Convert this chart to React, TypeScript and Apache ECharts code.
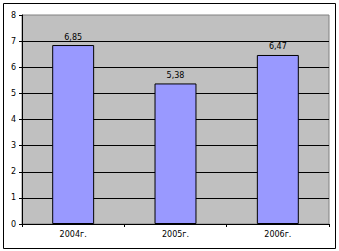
import React, { useEffect, useRef } from "react";
import * as echarts from "echarts";

const categories = ["2004г.", "2005г.", "2006г."];
const values = [6.85, 5.38, 6.47];
const yTicks = { min: 0, max: 8, interval: 1 };

export default function App() {
  const ref = useRef<HTMLDivElement>(null);
  useEffect(() => {
    if (!ref.current) return;
    const chart = echarts.init(ref.current, null, { renderer: "svg" });
    const font = "Tahoma, 'DejaVu Sans', sans-serif";
    chart.setOption({
      animation: false,
      backgroundColor: "#ffffff",
      graphic: [
        {
          type: "rect",
          shape: { x: 3.5, y: 3.5, width: 332, height: 245 },
          style: { fill: "none", stroke: "#000", lineWidth: 1 },
          z: 100,
        },
      ],
      grid: {
        left: 22,
        top: 15,
        right: 10,
        bottom: 27,
        show: true,
        backgroundColor: "#C0C0C0",
        borderColor: "#808080",
        borderWidth: 1,
      },
      xAxis: {
        type: "category",
        data: categories,
        boundaryGap: true,
        axisLine: { lineStyle: { color: "#000", width: 1 } },
        axisTick: { show: true, length: 3, lineStyle: { color: "#000" } },
        axisLabel: { color: "#000", fontSize: 8, fontFamily: font, margin: 6 },
        splitLine: { show: false },
      },
      yAxis: {
        type: "value",
        min: yTicks.min,
        max: yTicks.max,
        interval: yTicks.interval,
        axisLine: { show: true, lineStyle: { color: "#000", width: 1 } },
        axisTick: { show: true, length: 3, lineStyle: { color: "#000" } },
        axisLabel: { color: "#000", fontSize: 8, fontFamily: font, margin: 6 },
        splitLine: { show: true, showMaxLine: false, lineStyle: { color: "#000", width: 1 } },
      },
      series: [
        {
          type: "bar",
          data: values,
          barWidth: "41%",
          itemStyle: { color: "#9999FF", borderColor: "#000", borderWidth: 1 },
          label: {
            show: true,
            position: "top",
            distance: 4,
            color: "#000",
            fontSize: 8,
            fontFamily: font,
            formatter: (p: any) => String(p.value).replace(".", ","),
          },
        },
      ],
    });
    return () => chart.dispose();
  }, []);
  return (
    <div
      ref={ref}
      style={{ position: "fixed", left: 0, top: 0, width: 339, height: 251 }}
    />
  );
}
